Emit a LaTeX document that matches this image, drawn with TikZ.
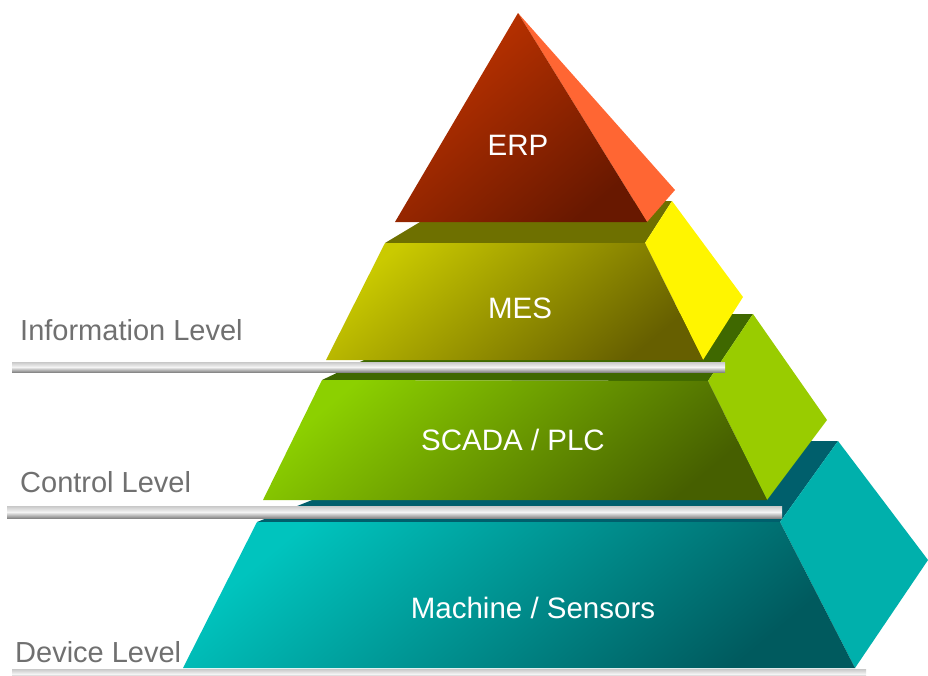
\documentclass[tikz,border=0pt]{standalone}
\usepackage{fontspec}
\setmainfont{Liberation Sans}
\definecolor{barTop}{HTML}{C8C8C8}
\definecolor{barMid}{HTML}{F4F4F4}
\definecolor{barBot}{HTML}{888888}
\definecolor{lvlgray}{HTML}{707070}
\definecolor{erpA}{HTML}{C23400}
\definecolor{erpB}{HTML}{681800}
\definecolor{erpSide}{HTML}{FF6633}
\definecolor{mesA}{HTML}{CACA00}
\definecolor{mesB}{HTML}{665F00}
\definecolor{mesTop}{HTML}{6E7000}
\definecolor{mesSide}{HTML}{FFF500}
\definecolor{scaA}{HTML}{8CD000}
\definecolor{scaB}{HTML}{465F00}
\definecolor{scaTop}{HTML}{3F6800}
\definecolor{scaSide}{HTML}{99CC00}
\definecolor{macA}{HTML}{00C4BE}
\definecolor{macB}{HTML}{005A5E}
\definecolor{macTop}{HTML}{005F6C}
\definecolor{macSide}{HTML}{00B0AC}
\begin{document}
\begin{tikzpicture}[x=1pt,y=-1pt,
  bar/.style={top color=barTop, bottom color=barBot, middle color=barMid},
  lvl/.style={font=\fontsize{29}{32}\selectfont, text=lvlgray, anchor=base west, inner sep=0pt},
  tier/.style={font=\fontsize{29.5}{33}\selectfont, text=white, anchor=base, inner sep=0pt},
  front/.style 2 args={top color=#1, bottom color=#2, shading angle=40}]
\useasboundingbox (0,0) rectangle (928,675);
% Machine layer
\fill[macTop] (257,522) -- (780,522) -- (838,441) -- (460,441) -- cycle;
\fill[macSide] (780,522) -- (838,441) -- (928,560) -- (855,668) -- cycle;
\shade[front={macA}{macB}] (257,522) -- (780,522) -- (855,668) -- (183,668) -- cycle;
\shade[bar] (12,669) rectangle (866,679);
% SCADA layer
\fill[scaTop] (322,380) -- (708,381) -- (753,314) -- (461,314) -- cycle;
\fill[scaSide] (708,381) -- (753,314) -- (827,420) -- (767,500) -- cycle;
\shade[front={scaA}{scaB}] (322,380) -- (708,381) -- (767,500) -- (263,500) -- cycle;
\shade[bar] (7,506) rectangle (782,518);
% MES layer
\fill[mesTop] (385,243) -- (645,243) -- (672,201) -- (455,201) -- cycle;
\fill[mesSide] (645,243) -- (672,201) -- (743,297) -- (703,360) -- cycle;
\shade[front={mesA}{mesB}] (385,243) -- (645,243) -- (703,360) -- (326,360) -- cycle;
\shade[bar] (12,362) rectangle (725,372);
% ERP
\fill[erpSide] (518,13) -- (675,190) -- (647,222) -- cycle;
\shade[front={erpA}{erpB}] (518,13) -- (647,222) -- (395,222) -- cycle;
% tier texts
\node[tier] (erp) at (518,155) {ERP};
\node[tier] (mes) at (520,318) {MES};
\node[tier] (scada) at (513,450) {SCADA / PLC};
\node[tier] (machine) at (533,618) {Machine / Sensors};
% level labels
\node[lvl] (info) at (20,340) {Information Level};
\node[lvl] (control) at (20,492) {Control Level};
\node[lvl] (device) at (15,662) {Device Level};
\end{tikzpicture}
\end{document}
